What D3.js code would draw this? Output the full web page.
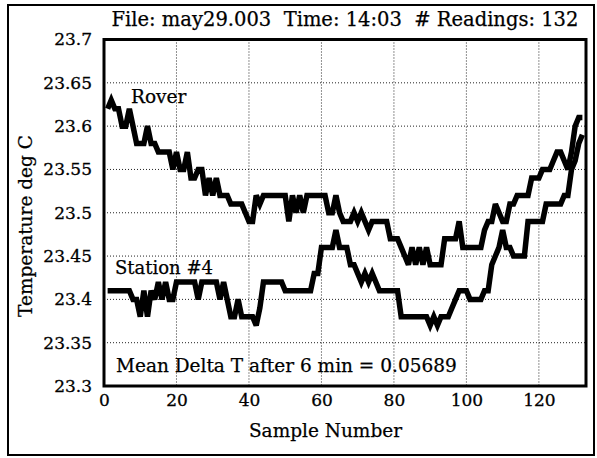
<!DOCTYPE html>
<html><head><meta charset="utf-8">
<script src="https://cdn.jsdelivr.net/npm/d3@7"></script>
<style>body{margin:0;background:#fff}svg{display:block}text{font-family:"DejaVu Serif",serif;fill:#000;white-space:pre}</style>
</head><body>
<svg id="c" width="597" height="458"></svg>
<script>
const titleText = "File: may29.003  Time: 14:03  # Readings: 132";
const xLabel = "Sample Number";
const yLabel = "Temperature deg C";
const noteText = "Mean Delta T after 6 min = 0.05689";
const seriesNames = ["Rover", "Station #4"];
const xTicks = [0, 20, 40, 60, 80, 100, 120];
const yTicks = [23.3, 23.35, 23.4, 23.45, 23.5, 23.55, 23.6, 23.65, 23.7];
const yTickLabels = ["23.3", "23.35", "23.4", "23.45", "23.5", "23.55", "23.6", "23.65", "23.7"];
const xDomain = [0, 133];
const yDomain = [23.3, 23.7];

// samples 1..132
const rover = [
 23.62,23.63,23.62,23.62,23.60,23.60,23.62,23.60,23.58,23.58,
 23.58,23.60,23.58,23.58,23.57,23.57,23.57,23.57,23.55,23.57,
 23.55,23.55,23.57,23.54,23.54,23.55,23.55,23.52,23.54,23.52,
 23.54,23.52,23.52,23.52,23.51,23.51,23.51,23.51,23.50,23.49,
 23.49,23.52,23.51,23.52,23.52,23.52,23.52,23.52,23.52,23.52,
 23.49,23.52,23.50,23.52,23.50,23.52,23.52,23.52,23.52,23.52,
 23.52,23.50,23.50,23.52,23.50,23.49,23.49,23.49,23.50,23.49,
 23.50,23.49,23.48,23.49,23.49,23.49,23.49,23.49,23.47,23.47,
 23.47,23.46,23.45,23.44,23.46,23.44,23.46,23.44,23.46,23.44,
 23.44,23.44,23.44,23.47,23.47,23.47,23.47,23.49,23.46,23.46,
 23.46,23.46,23.46,23.46,23.48,23.49,23.49,23.51,23.50,23.49,
 23.49,23.51,23.51,23.52,23.52,23.52,23.52,23.54,23.54,23.54,
 23.55,23.55,23.55,23.56,23.57,23.57,23.56,23.55,23.57,23.60,
 23.61,23.61
];
const station = [
 23.41,23.41,23.41,23.41,23.41,23.41,23.41,23.40,23.40,23.38,
 23.41,23.38,23.41,23.40,23.42,23.40,23.42,23.40,23.40,23.42,
 23.42,23.42,23.42,23.42,23.42,23.40,23.42,23.42,23.42,23.42,
 23.42,23.40,23.42,23.40,23.38,23.38,23.40,23.38,23.38,23.38,
 23.38,23.37,23.39,23.42,23.42,23.42,23.42,23.42,23.42,23.41,
 23.41,23.41,23.41,23.41,23.41,23.41,23.41,23.43,23.43,23.46,
 23.46,23.46,23.46,23.48,23.46,23.46,23.46,23.44,23.44,23.43,
 23.42,23.43,23.42,23.43,23.42,23.41,23.41,23.41,23.41,23.41,
 23.41,23.38,23.38,23.38,23.38,23.38,23.38,23.38,23.38,23.37,
 23.38,23.37,23.38,23.38,23.38,23.39,23.40,23.41,23.41,23.41,
 23.40,23.40,23.40,23.40,23.41,23.41,23.44,23.45,23.46,23.48,
 23.46,23.46,23.45,23.45,23.45,23.45,23.49,23.49,23.49,23.49,
 23.49,23.51,23.51,23.51,23.51,23.51,23.52,23.52,23.55,23.56,
 23.58,23.59
];

const svg = d3.select("#c");
const L = 104, R = 586, T = 39.5, B = 386;
const x = d3.scaleLinear().domain(xDomain).range([L, R]);
const y = d3.scaleLinear().domain(yDomain).range([B, T]);
const FONT = '"DejaVu Serif",serif';

// outer frame
svg.append("rect").attr("x", 8).attr("y", 5).attr("width", 586).attr("height", 450)
  .attr("fill", "none").attr("stroke", "#000").attr("stroke-width", 2);

// grid
const g = svg.append("g");
g.selectAll(".vg").data(xTicks.filter(d => d > 0)).enter().append("line")
  .attr("x1", d => x(d)).attr("x2", d => x(d)).attr("y1", T).attr("y2", B)
  .attr("stroke", "#222").attr("stroke-width", 1).attr("stroke-dasharray", "1,2");
g.selectAll(".hg").data(yTicks.slice(1, -1)).enter().append("line")
  .attr("y1", d => y(d)).attr("y2", d => y(d)).attr("x1", L).attr("x2", R)
  .attr("stroke", "#222").attr("stroke-width", 1).attr("stroke-dasharray", "1,2");

// axes
const xAxis = d3.axisBottom(x).tickValues(xTicks).tickSize(0).tickPadding(8).tickFormat(d3.format("d"));
const yAxis = d3.axisLeft(y).tickValues(yTicks).tickSize(0).tickPadding(12).tickFormat((d, i) => yTickLabels[i]);
const gx = svg.append("g").attr("transform", `translate(0,${B})`).call(xAxis);
const gy = svg.append("g").attr("transform", `translate(${L},0)`).call(yAxis);
[gx, gy].forEach(a => {
  a.select(".domain").remove();
  a.selectAll("text").style("font-family", FONT).style("font-size", "17px")
    .attr("fill", "#000").attr("stroke", "#000").attr("stroke-width", 0.3);
});

// lines
const line = d3.line().x((d, i) => x(i + 1)).y(d => y(d)).curve(d3.curveLinear);
[rover, station].forEach(s => {
  svg.append("path").datum(s).attr("d", line).attr("fill", "none")
    .attr("stroke", "#000").attr("stroke-width", 5.5).attr("stroke-linejoin", "miter").attr("stroke-miterlimit", 3);
});

// plot frame
svg.append("rect").attr("x", L).attr("y", T).attr("width", R - L).attr("height", B - T)
  .attr("fill", "none").attr("stroke", "#000").attr("stroke-width", 3);

// texts
function txt(sel) { return sel.style("font-family", FONT).attr("stroke", "#000").attr("stroke-width", 0.25); }
txt(svg.append("text").attr("x", 345).attr("y", 26).attr("text-anchor", "middle")
  .style("font-size", "19.5px").text(titleText));
txt(svg.append("text").attr("x", 325.5).attr("y", 437).attr("text-anchor", "middle")
  .style("font-size", "18.5px").text(xLabel));
txt(svg.append("text").attr("transform", "translate(32,226) rotate(-90)").attr("text-anchor", "middle")
  .style("font-size", "18.5px").text(yLabel));
txt(svg.append("text").attr("x", 131).attr("y", 103).style("font-size", "18.5px").text(seriesNames[0]));
txt(svg.append("text").attr("x", 115).attr("y", 274).style("font-size", "18px").text(seriesNames[1]));
txt(svg.append("text").attr("x", 116).attr("y", 372).style("font-size", "18.5px").text(noteText));
</script>
</body></html>
